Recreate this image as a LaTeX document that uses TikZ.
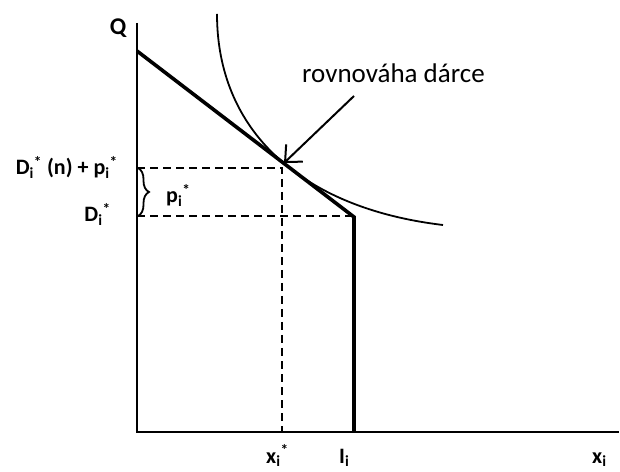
\documentclass[tikz,border=0pt]{standalone}
\usepackage{fontspec}
\setmainfont{Carlito}
\usetikzlibrary{arrows.meta,decorations.pathreplacing}
\tikzset{
  axis/.style={line width=2pt},
  budget/.style={line width=3.6pt,line join=miter},
  indiff/.style={line width=1.8pt},
  guide/.style={line width=1.4pt,dash pattern=on 8pt off 5pt},
  pointer/.style={line width=2pt,-{Straight Barb[length=13pt,width=24pt,line width=2pt]}},
  lbl/.style={font=\fontsize{22}{24}\selectfont\bfseries,inner sep=0pt},
  txt/.style={font=\fontsize{27}{30}\selectfont,inner sep=0pt}
}
\begin{document}
\begin{tikzpicture}[x=1pt,y=1pt]
\useasboundingbox (0,0) rectangle (620,471);
% key points
\coordinate (O) at (137,39);
\coordinate (Ytop) at (137,448);
\coordinate (Xend) at (619,39);
\coordinate (B0) at (137,420);
\coordinate (K) at (354,254);
\coordinate (Kb) at (354,39);
\coordinate (E) at (284,308);
\coordinate (Hl) at (137,303);
\coordinate (Hm) at (282,303);
\coordinate (Vb) at (282,39);
\coordinate (Dl) at (137,255);
\coordinate (Dr) at (354,255);
\coordinate (C0) at (217,457);
\coordinate (C1) at (443,246);
\coordinate (As) at (354,375);
\coordinate (Bt) at (138,303);
\coordinate (Bb) at (138,255);
% axes
\draw[axis] (Ytop) -- (O) -- (Xend);
% dashed guides
\draw[guide] (Hl) -- (Hm) -- (Vb);
\draw[guide] (Dl) -- (Dr);
% indifference curve
\draw[indiff] (C0) .. controls (217,341) and (300,263) .. (C1);
% budget line
\draw[budget] (B0) -- (K) -- (Kb);
% brace
\draw[line width=1.8pt,decorate,decoration={brace,amplitude=11pt}] (Bt) -- (Bb);
% arrow
\draw[pointer] (As) -- (E);
% labels
\node[lbl,font=\fontsize{24}{26}\selectfont\bfseries,anchor=center] (q) at (118,443) {Q};
\node[txt,anchor=base west] (eq) at (302,388) {rovnováha dárce};
\node[lbl,anchor=base east] (dn) at (118,296) {D\textsubscript{i}\textsuperscript{*} (n) + p\textsubscript{i}\textsuperscript{*}};
\node[lbl,anchor=base east] (d) at (111,249) {D\textsubscript{i}\textsuperscript{*}};
\node[lbl,anchor=base west] (p) at (166,268) {p\textsubscript{i}\textsuperscript{*}};
\node[lbl,anchor=base west] (xs) at (266,8) {x\textsubscript{i}\textsuperscript{*}};
\node[lbl,anchor=base west] (ii) at (339,8) {I\textsubscript{i}};
\node[lbl,anchor=base west] (xi) at (592,8) {x\textsubscript{i}};
\end{tikzpicture}
\end{document}
